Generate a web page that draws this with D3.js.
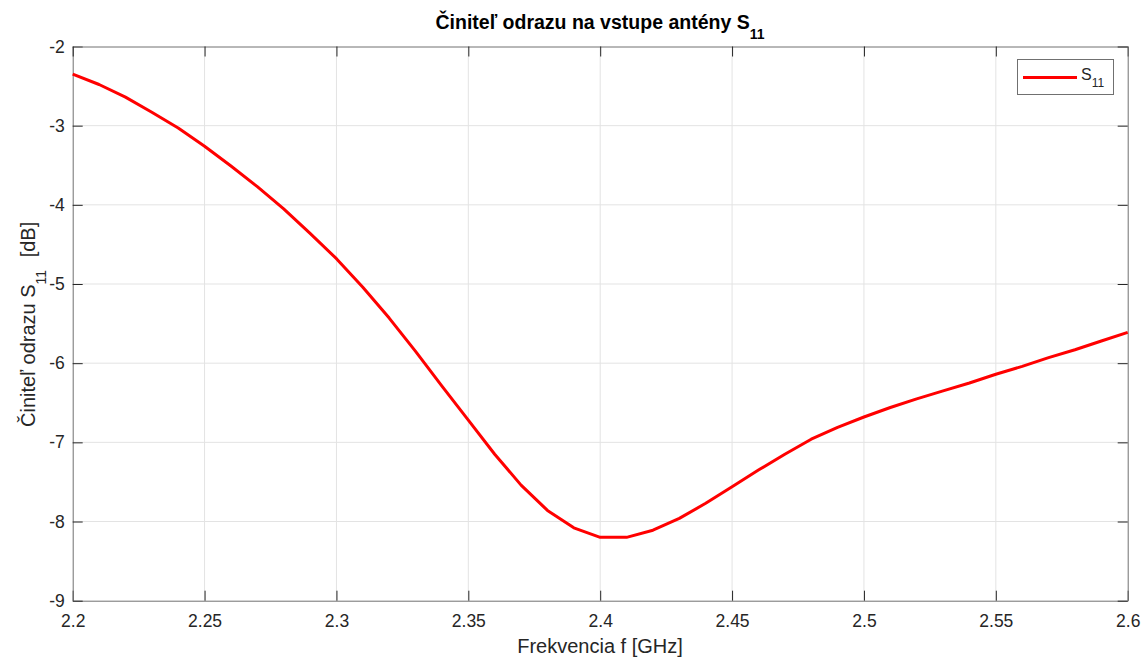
<!DOCTYPE html>
<html>
<head>
<meta charset="utf-8">
<script src="https://cdn.jsdelivr.net/npm/d3@7"></script>
<style>
  html, body { margin: 0; padding: 0; background: #fff; }
  svg { display: block; font-family: "Liberation Sans", Arial, sans-serif; }
</style>
</head>
<body>
<svg id="chart" width="1144" height="657"></svg>
<script>
// Frequency sweep [GHz] and measured reflection coefficient S11 [dB]
const freq = [2.20, 2.21, 2.22, 2.23, 2.24, 2.25, 2.26, 2.27, 2.28, 2.29,
              2.30, 2.31, 2.32, 2.33, 2.34, 2.35, 2.36, 2.37, 2.38, 2.39,
              2.40, 2.41, 2.42, 2.43, 2.44, 2.45, 2.46, 2.47, 2.48, 2.49,
              2.50, 2.51, 2.52, 2.53, 2.54, 2.55, 2.56, 2.57, 2.58, 2.59, 2.60];
const s11 = [-2.35, -2.48, -2.64, -2.83, -3.03, -3.26, -3.51, -3.77, -4.05, -4.36,
             -4.68, -5.04, -5.43, -5.85, -6.29, -6.72, -7.15, -7.54, -7.86, -8.08,
             -8.20, -8.20, -8.11, -7.96, -7.77, -7.56, -7.35, -7.15, -6.96, -6.81,
             -6.68, -6.56, -6.45, -6.35, -6.25, -6.14, -6.04, -5.93, -5.83, -5.72, -5.61];

const xTicks = [2.2, 2.25, 2.3, 2.35, 2.4, 2.45, 2.5, 2.55, 2.6];
const xTickLabels = ["2.2", "2.25", "2.3", "2.35", "2.4", "2.45", "2.5", "2.55", "2.6"];
const yTicks = [-9, -8, -7, -6, -5, -4, -3, -2];
const yTickLabels = ["-9", "-8", "-7", "-6", "-5", "-4", "-3", "-2"];

const svg = d3.select("#chart");
const plotL = 72.7, plotR = 1127.7, plotT = 46.5, plotB = 600.7;

const x = d3.scaleLinear().domain([2.2, 2.6]).range([plotL, plotR]);
const y = d3.scaleLinear().domain([-9, -2]).range([plotB, plotT]);

const axisColor = "#262626";
const tickLen = 10;

// grid
const grid = svg.append("g");
grid.selectAll("line.gx").data(xTicks.slice(1, -1)).join("line")
  .attr("x1", d => x(d)).attr("x2", d => x(d))
  .attr("y1", plotT).attr("y2", plotB)
  .attr("stroke", "#e3e3e3").attr("stroke-width", 1);
grid.selectAll("line.gy").data(yTicks.slice(1, -1)).join("line")
  .attr("x1", plotL).attr("x2", plotR)
  .attr("y1", d => y(d)).attr("y2", d => y(d))
  .attr("stroke", "#e3e3e3").attr("stroke-width", 1);

// axes (ticks pointing inward, labels outside)
const xAxis = d3.axisBottom(x).tickValues(xTicks)
  .tickFormat((d, i) => xTickLabels[i]).tickSizeInner(-tickLen).tickSizeOuter(0).tickPadding(14);
const yAxis = d3.axisLeft(y).tickValues(yTicks)
  .tickFormat((d, i) => yTickLabels[i]).tickSizeInner(-tickLen).tickSizeOuter(0).tickPadding(8);
const xTop = d3.axisTop(x).tickValues(xTicks).tickFormat("").tickSizeInner(-tickLen).tickSizeOuter(0);
const yRight = d3.axisRight(y).tickValues(yTicks).tickFormat("").tickSizeInner(-tickLen).tickSizeOuter(0);

function styleAxis(g) {
  g.selectAll(".domain").attr("stroke", "#707070").attr("stroke-width", 1);
  g.selectAll(".tick line").attr("stroke", axisColor).attr("stroke-width", 1);
  g.selectAll(".tick text").attr("fill", axisColor)
    .style("font-family", "'Liberation Sans', Arial, sans-serif").style("font-size", "17.5px");
}

svg.append("g").attr("transform", `translate(0,${plotB})`).call(xAxis).call(styleAxis);
svg.append("g").attr("transform", `translate(${plotL},0)`).call(yAxis).call(styleAxis);
svg.append("g").attr("transform", `translate(0,${plotT})`).call(xTop).call(styleAxis);
svg.append("g").attr("transform", `translate(${plotR},0)`).call(yRight).call(styleAxis);

// data line
const line = d3.line().x((d, i) => x(freq[i])).y(d => y(d));
svg.append("path").datum(s11)
  .attr("d", line)
  .attr("fill", "none")
  .attr("stroke", "#ff0000")
  .attr("stroke-width", 3)
  .attr("stroke-linejoin", "round");

// title
const title = svg.append("text")
  .attr("x", 600).attr("y", 29)
  .attr("text-anchor", "middle")
  .attr("fill", "#000")
  .style("font-size", "19.5px").style("font-weight", "bold");
title.append("tspan").text("Činiteľ odrazu na vstupe antény S");
title.append("tspan").attr("dy", 10).style("font-size", "14px").text("11");

// x label
svg.append("text")
  .attr("x", 600).attr("y", 653)
  .attr("text-anchor", "middle")
  .attr("fill", axisColor)
  .style("font-size", "20px")
  .text("Frekvencia f [GHz]");

// y label
const yl = svg.append("text")
  .attr("transform", `translate(35,427) rotate(-90)`)
  .attr("text-anchor", "start")
  .attr("fill", axisColor)
  .style("font-size", "20px");
yl.append("tspan").text("Činiteľ odrazu S");
yl.append("tspan").attr("dy", 11).style("font-size", "14px").text("11");
yl.append("tspan").attr("dy", -11).attr("dx", 7).text(" [dB]");

// legend
const lg = svg.append("g");
lg.append("rect")
  .attr("x", 1017.5).attr("y", 59.5).attr("width", 96).attr("height", 35)
  .attr("fill", "#fff").attr("stroke", "#707070").attr("stroke-width", 1);
lg.append("line")
  .attr("x1", 1023).attr("x2", 1077).attr("y1", 77.5).attr("y2", 77.5)
  .attr("stroke", "#ff0000").attr("stroke-width", 3);
const lt = lg.append("text").attr("x", 1081).attr("y", 79.5)
  .attr("fill", axisColor).style("font-size", "16px");
lt.append("tspan").text("S");
lt.append("tspan").attr("dy", 7).style("font-size", "12px").text("11");
</script>
</body>
</html>
